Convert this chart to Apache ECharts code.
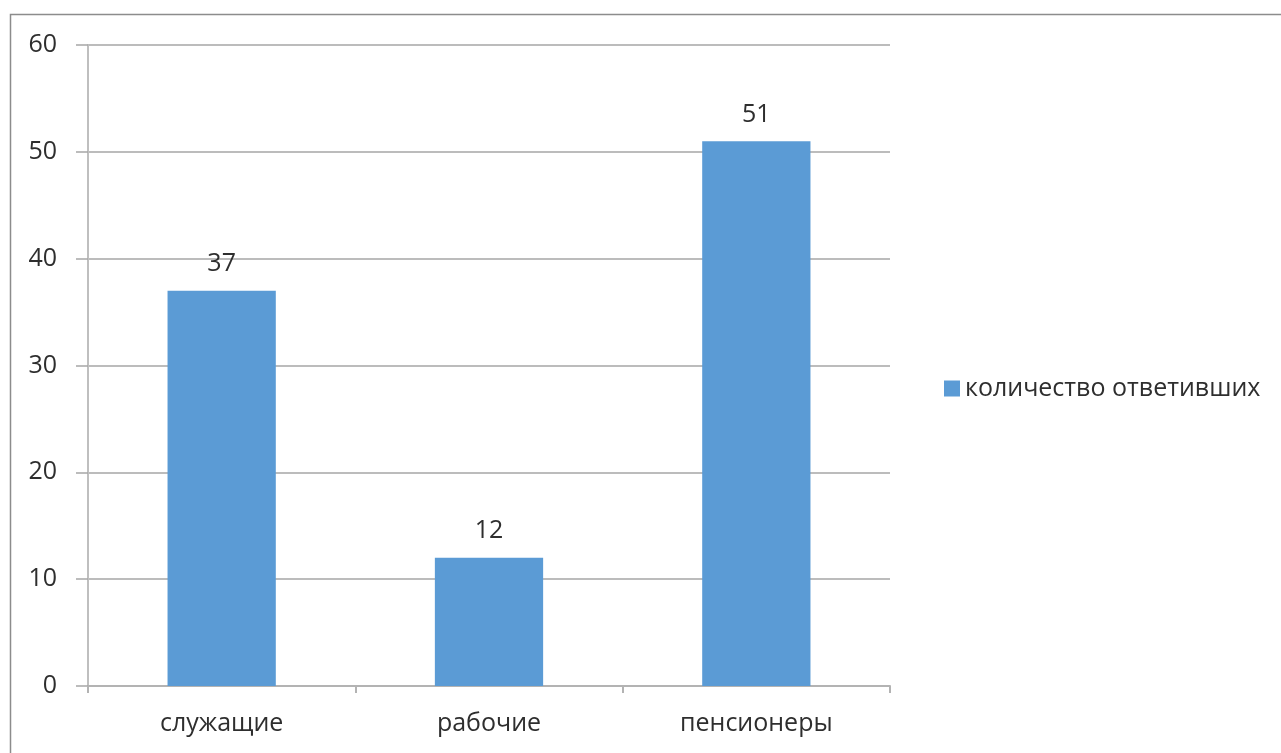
<!DOCTYPE html>
<html>
<head>
<meta charset="utf-8">
<script src="https://cdn.jsdelivr.net/npm/echarts@6/dist/echarts.min.js"></script>
<style>
html,body{margin:0;padding:0;background:#fff;}
#chart{width:1281px;height:753px;}
</style>
</head>
<body>
<div id="chart"></div>
<script>
const categories = ['служащие', 'рабочие', 'пенсионеры'];
const values = [37, 12, 51];
const seriesName = 'количество ответивших';

const chart = echarts.init(document.getElementById('chart'));
const font = '"Open Sans", "Noto Sans", sans-serif';
chart.setOption({
  animation: false,
  graphic: [{
    type: 'rect',
    shape: {x: 10.5, y: 14.5, width: 1400, height: 900},
    style: {fill: 'none', stroke: '#8c8c8c', lineWidth: 1.5},
    silent: true
  }],
  legend: {
    data: [seriesName],
    left: 939,
    top: 371,
    itemWidth: 16,
    itemHeight: 16,
    itemGap: 8,
    icon: 'rect',
    textStyle: {fontFamily: font, fontSize: 25, color: '#2e2e2e'}
  },
  grid: {left: 88, right: 391, top: 45, bottom: 67},
  xAxis: {
    type: 'category',
    data: categories,
    boundaryGap: true,
    axisLine: {lineStyle: {color: '#b3b3b3', width: 2}},
    axisTick: {show: true, length: 7, lineStyle: {color: '#b3b3b3', width: 2}},
    axisLabel: {margin: 25, fontFamily: font, fontSize: 25, color: '#2e2e2e'}
  },
  yAxis: {
    type: 'value',
    min: 0,
    max: 60,
    interval: 10,
    axisLine: {show: true, lineStyle: {color: '#bfbfbf', width: 2}},
    axisTick: {show: true, length: 12, lineStyle: {color: '#a6a6a6', width: 1.5}},
    axisLabel: {margin: 31, fontFamily: font, fontSize: 25, color: '#2e2e2e'},
    splitLine: {show: true, lineStyle: {color: '#a6a6a6', width: 1.5}}
  },
  series: [{
    name: seriesName,
    type: 'bar',
    data: values,
    barWidth: '40.5%',
    itemStyle: {color: '#5b9bd5'},
    label: {
      show: true,
      position: 'top',
      distance: 14,
      fontFamily: font,
      fontSize: 25,
      color: '#2e2e2e'
    }
  }]
});
</script>
</body>
</html>
